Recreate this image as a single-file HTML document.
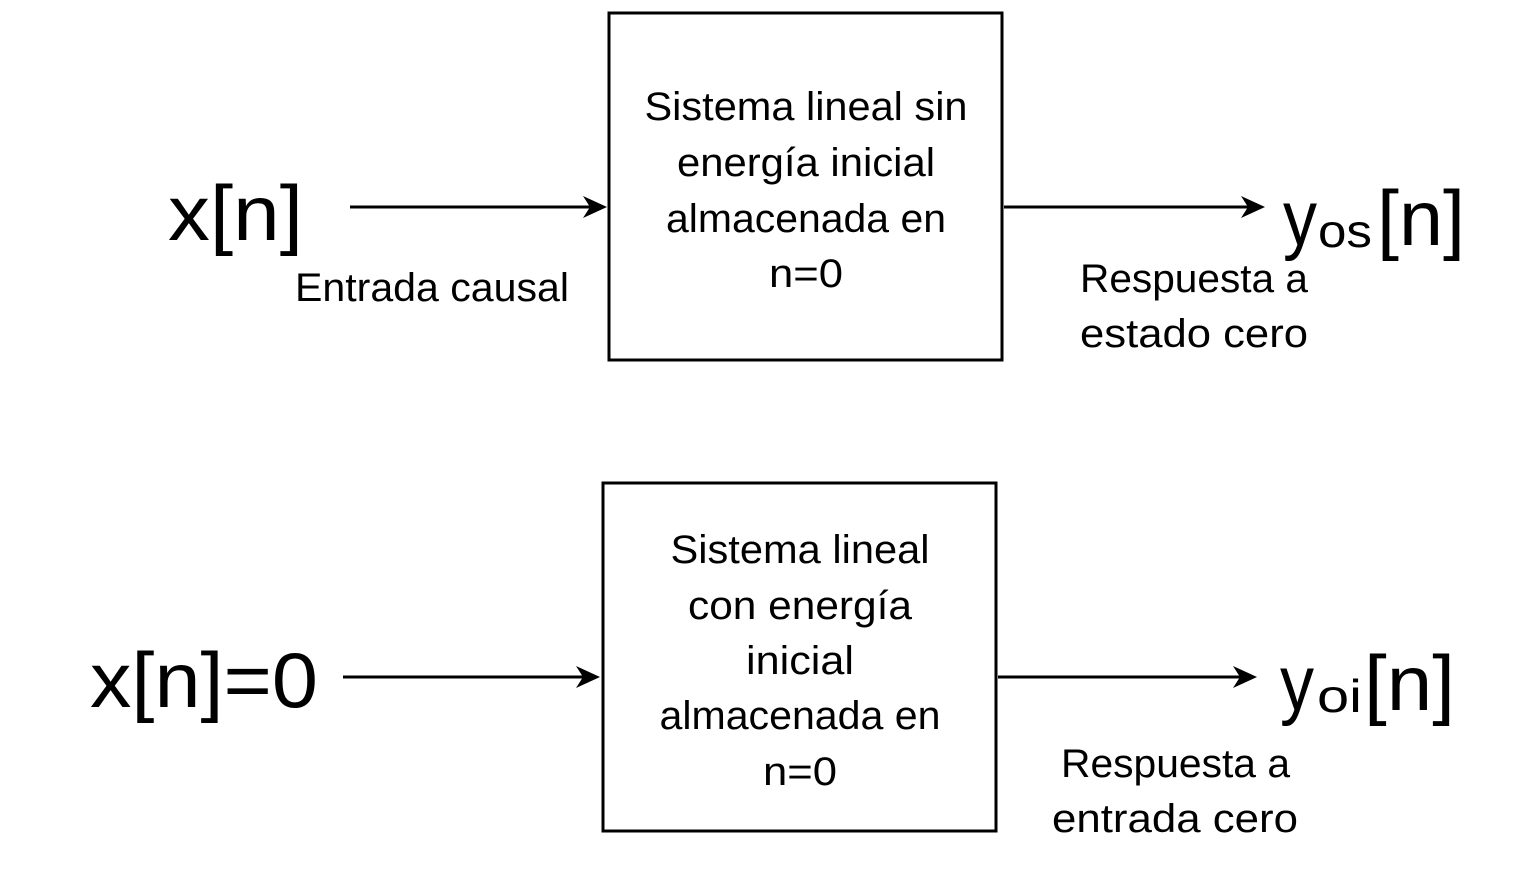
<!DOCTYPE html>
<html><head><meta charset="utf-8"><style>
html,body{margin:0;padding:0;background:#fff;}
svg{display:block;}
text{font-family:"Liberation Sans",sans-serif;fill:#000;}
</style></head><body>
<svg width="1530" height="880" viewBox="0 0 1530 880">
<defs>
<marker id="ah" markerWidth="12" markerHeight="12" refX="10" refY="6" orient="auto" markerUnits="userSpaceOnUse">
<path d="M0,0 L12,6 L0,12 L4,6 Z" fill="#000" transform="scale(1.8) translate(-5,-3)"/>
</marker>
</defs>
<g fill="none" stroke="#000" stroke-width="3">
<rect x="609" y="13" width="393" height="347"/>
<rect x="603" y="483" width="393" height="348"/>
<line x1="350" y1="207" x2="592" y2="207"/>
<line x1="1004" y1="207" x2="1250" y2="207"/>
<line x1="343" y1="677" x2="585" y2="677"/>
<line x1="998" y1="677" x2="1242" y2="677"/>
</g>
<g fill="#000">
<polygon points="607,207 583,196 590,207 583,218"/>
<polygon points="1265,207 1241,196 1248,207 1241,218"/>
<polygon points="600,677 576,666 583,677 576,688"/>
<polygon points="1257,677 1233,666 1240,677 1233,688"/>
</g>
<g font-size="40" text-anchor="middle">
<text x="806" y="120" textLength="323" lengthAdjust="spacingAndGlyphs">Sistema lineal sin</text>
<text x="806" y="176" textLength="258" lengthAdjust="spacingAndGlyphs">energía inicial</text>
<text x="806" y="232" textLength="280" lengthAdjust="spacingAndGlyphs">almacenada en</text>
<text x="806" y="287" textLength="74" lengthAdjust="spacingAndGlyphs">n=0</text>
<text x="800" y="563" textLength="259" lengthAdjust="spacingAndGlyphs">Sistema lineal</text>
<text x="800" y="619" textLength="224" lengthAdjust="spacingAndGlyphs">con energía</text>
<text x="800" y="674" textLength="108" lengthAdjust="spacingAndGlyphs">inicial</text>
<text x="800" y="729" textLength="281" lengthAdjust="spacingAndGlyphs">almacenada en</text>
<text x="800" y="785" textLength="74" lengthAdjust="spacingAndGlyphs">n=0</text>
</g>
<g font-size="40">
<text x="295" y="301" textLength="274" lengthAdjust="spacingAndGlyphs">Entrada causal</text>
<text x="1080" y="292" textLength="228" lengthAdjust="spacingAndGlyphs">Respuesta a</text>
<text x="1080" y="347" textLength="228" lengthAdjust="spacingAndGlyphs">estado cero</text>
<text x="1061" y="777" textLength="229" lengthAdjust="spacingAndGlyphs">Respuesta a</text>
<text x="1052" y="832" textLength="246" lengthAdjust="spacingAndGlyphs">entrada cero</text>
</g>
<g font-size="78">
<text x="168" y="240" textLength="135" lengthAdjust="spacingAndGlyphs">x[n]</text>
<text x="90" y="707" textLength="228" lengthAdjust="spacingAndGlyphs">x[n]=0</text>
<text x="1283" y="245" textLength="34" lengthAdjust="spacingAndGlyphs">y</text>
<text x="1377" y="245" textLength="88" lengthAdjust="spacingAndGlyphs">[n]</text>
<text x="1280" y="710" textLength="34" lengthAdjust="spacingAndGlyphs">y</text>
<text x="1364" y="710" textLength="91" lengthAdjust="spacingAndGlyphs">[n]</text>
</g>
<g font-size="46">
<text x="1318" y="247" textLength="54" lengthAdjust="spacingAndGlyphs">os</text>
<text x="1317" y="712" textLength="45" lengthAdjust="spacingAndGlyphs">oi</text>
</g>
</svg>
</body></html>
